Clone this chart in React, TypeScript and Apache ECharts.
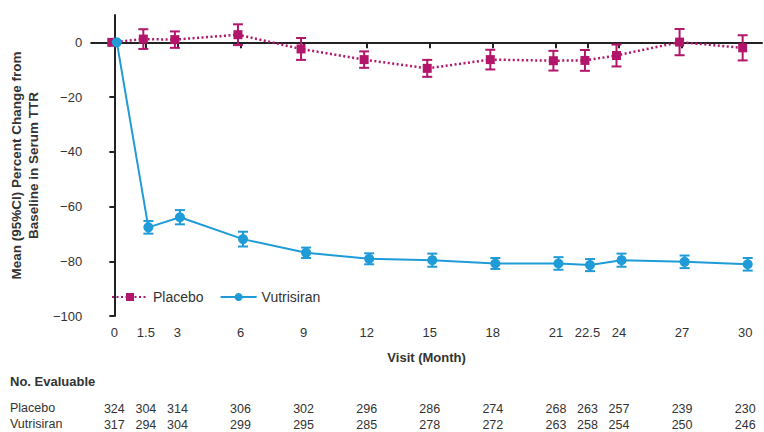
import React, { useEffect, useRef } from "react";
import * as echarts from "echarts";

const months = [0, 1.5, 3, 6, 9, 12, 15, 18, 21, 22.5, 24, 27, 30];
const placeboMean = [0, 1.2, 1.0, 2.8, -2.4, -6.3, -9.5, -6.3, -6.7, -6.6, -4.8, 0.1, -2.0];
const placeboCI = [0, 3.6, 3.0, 3.8, 4.0, 3.0, 3.1, 3.6, 3.6, 3.8, 4.0, 4.8, 4.6];
const vutriMean = [0, -67.6, -63.9, -71.9, -76.9, -79.1, -79.6, -80.8, -80.8, -81.4, -79.6, -80.2, -81.1];
const vutriCI = [0, 2.3, 2.6, 2.7, 1.9, 2.0, 2.4, 2.0, 2.3, 2.2, 2.4, 2.3, 2.3];
const placeboN = [324, 304, 314, 306, 302, 296, 286, 274, 268, 263, 257, 239, 230];
const vutriN = [317, 294, 304, 299, 295, 285, 278, 272, 263, 258, 254, 250, 246];
const yTicks = [-100, -80, -60, -40, -20, 0];

const PLACEBO = "#B2166A";
const VUTRI = "#1F9BD7";
const TXT = "#333333";
const FONT = "Arial, 'Liberation Sans', sans-serif";
const DODGE = 0.12;

function errData(mean: number[], ci: number[], shift: number) {
  return months
    .map((m, i) => [m + shift, mean[i] - ci[i], mean[i] + ci[i]])
    .filter((_, i) => ci[i] > 0);
}

function errSeries(name: string, mean: number[], ci: number[], shift: number, color: string, cap: number) {
  return {
    type: "custom",
    name: name + "-err",
    z: 3,
    silent: true,
    encode: { x: 0, y: [1, 2] },
    data: errData(mean, ci, shift),
    renderItem: (params: any, api: any) => {
      const x = api.value(0);
      const lo = api.coord([x, api.value(1)]);
      const hi = api.coord([x, api.value(2)]);
      const style = { stroke: color, lineWidth: 2 };
      return {
        type: "group",
        children: [
          { type: "line", shape: { x1: hi[0], y1: hi[1], x2: lo[0], y2: lo[1] }, style },
          { type: "line", shape: { x1: hi[0] - cap, y1: hi[1], x2: hi[0] + cap, y2: hi[1] }, style },
          { type: "line", shape: { x1: lo[0] - cap, y1: lo[1], x2: lo[0] + cap, y2: lo[1] }, style },
        ],
      };
    },
  };
}

function countAxis(counts: number[], offset: number) {
  return {
    type: "value",
    gridIndex: 0,
    position: "bottom",
    offset,
    min: -1.1,
    max: 30.8,
    axisLine: { show: false },
    axisTick: { show: false },
    splitLine: { show: false },
    axisLabel: {
      customValues: months,
      margin: 0,
      fontSize: 12.5,
      color: TXT,
      fontFamily: FONT,
      formatter: (v: number) => {
        const i = months.findIndex((m) => Math.abs(m - v) < 1e-6);
        return i >= 0 ? String(counts[i]) : "";
      },
    },
  };
}

export default function App() {
  const ref = useRef<HTMLDivElement>(null);
  useEffect(() => {
    document.body.style.margin = "0";
    const chart = echarts.init(ref.current!, null, { renderer: "svg" });
    chart.setOption({
      animation: false,
      textStyle: { fontFamily: FONT },
      grid: { left: 87, right: 2, top: 15, bottom: 116 },
      legend: {
        left: 106,
        top: 285,
        itemWidth: 36,
        itemHeight: 10,
        itemGap: 16,
        textStyle: { fontSize: 14, color: TXT, fontFamily: FONT },
        data: ["Placebo", "Vutrisiran"],
      },
      xAxis: [
        {
          type: "value",
          min: -1.1,
          max: 30.8,
          name: "Visit (Month)",
          nameLocation: "middle",
          nameGap: 35,
          nameTextStyle: { fontWeight: "bold", fontSize: 13, color: TXT, fontFamily: FONT },
          axisLine: { lineStyle: { color: "#222", width: 2 } },
          axisTick: { customValues: months, length: 6, lineStyle: { color: "#222", width: 2 } },
          axisLabel: {
            customValues: months,
            margin: 10,
            fontSize: 13,
            color: TXT,
            formatter: (v: number) => String(v),
          },
          splitLine: { show: false },
        },
        countAxis(placeboN, 86),
        countAxis(vutriN, 102),
      ],
      yAxis: {
        type: "value",
        min: -100,
        max: 10,
        name: "Mean (95%CI) Percent Change from\nBaseline in Serum TTR",
        nameLocation: "middle",
        nameGap: 39,
        nameTextStyle: { fontWeight: "bold", fontSize: 13.5, lineHeight: 17, color: TXT, fontFamily: FONT },
        axisLine: { show: true, lineStyle: { color: "#222", width: 2 } },
        axisTick: { show: true, customValues: yTicks, length: 5, lineStyle: { color: "#222", width: 2 } },
        axisLabel: {
          customValues: yTicks,
          margin: 9,
          fontSize: 13,
          color: TXT,
          formatter: (v: number) => (v < 0 ? "\u2212" + Math.abs(v) : String(v)),
        },
        splitLine: { show: false },
      },
      series: [
        errSeries("Placebo", placeboMean, placeboCI, -DODGE, PLACEBO, 5),
        errSeries("Vutrisiran", vutriMean, vutriCI, DODGE, VUTRI, 5),
        {
          type: "line",
          name: "Placebo",
          z: 4,
          data: months.map((m, i) => [m - DODGE, placeboMean[i]]),
          symbol: "rect",
          symbolSize: 9,
          itemStyle: { color: PLACEBO },
          lineStyle: { color: PLACEBO, width: 2.5, type: [2, 2.5] },
        },
        {
          type: "line",
          name: "Vutrisiran",
          z: 5,
          data: months.map((m, i) => [m + DODGE, vutriMean[i]]),
          symbol: "circle",
          symbolSize: 10,
          itemStyle: { color: VUTRI },
          lineStyle: { color: VUTRI, width: 2 },
        },
      ],
      graphic: [
        { type: "text", left: 10, top: 375, style: { text: "No. Evaluable", fontWeight: "bold", fontSize: 13, fill: TXT, fontFamily: FONT } },
        { type: "text", left: 10, top: 401, style: { text: "Placebo", fontSize: 12.5, fill: TXT, fontFamily: FONT } },
        { type: "text", left: 10, top: 417, style: { text: "Vutrisiran", fontSize: 12.5, fill: TXT, fontFamily: FONT } },
      ],
    });
    return () => chart.dispose();
  }, []);
  return <div ref={ref} style={{ width: 764, height: 432 }} />;
}
